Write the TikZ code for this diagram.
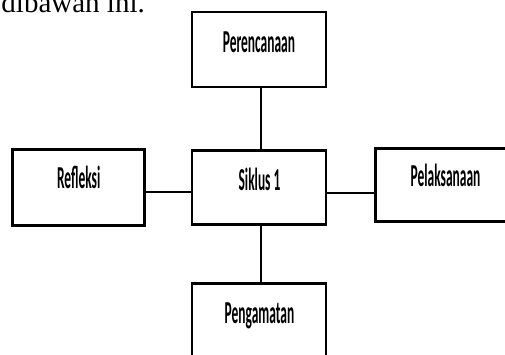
\documentclass[tikz,border=0pt]{standalone}
\usepackage{fontspec}
\setmainfont{Liberation Serif}
\newfontfamily\calib{Carlito}
\newcommand{\boxlbl}[1]{\scalebox{0.42}[1]{\fontsize{32}{34}\selectfont\calib\bfseries #1}}
\begin{document}
\begin{tikzpicture}[x=1pt,y=-1pt,
  box/.style={draw=black,line width=2.6pt,fill=white,inner sep=0pt},
  txt/.style={anchor=base,inner sep=0pt},
  conn/.style={draw=black,line width=1.1pt}]
\useasboundingbox (0,0) rectangle (505,355);
\clip (0,0) rectangle (505,355);
\node[anchor=base east,inner sep=0pt,font=\fontsize{29}{31}\selectfont] (intro) at (145,12.7) {dibawah ini.};
\node[box,minimum width=134pt,minimum height=75pt] (top) at (259,49.5) {};
\node[box,minimum width=134pt,minimum height=74pt] (center) at (259,187.5) {};
\node[box,minimum width=132pt,minimum height=76pt] (left) at (78.5,187.5) {};
\node[box,minimum width=139pt,minimum height=73pt] (right) at (445,185) {};
\node[box,minimum width=134pt,minimum height=75pt] (bottom) at (259,321) {};
\node[txt] (ttop) at (259,53) {\boxlbl{Perencanaan}};
\node[txt] (tcenter) at (259.5,190) {\boxlbl{Siklus 1}};
\node[txt] (tleft) at (78.7,188.5) {\boxlbl{Refleksi}};
\node[txt] (tright) at (445.5,187) {\boxlbl{Pelaksanaan}};
\node[txt] (tbottom) at (259.5,323) {\boxlbl{Pengamatan}};
\draw[conn] ([xshift=2pt]top.south) -- ([xshift=2pt]center.north);
\draw[conn] ([xshift=2pt]center.south) -- ([xshift=2pt]bottom.north);
\draw[conn] ([yshift=-4.5pt]left.east) -- ([yshift=-4.5pt]center.west);
\draw[conn] ([yshift=-5.5pt]center.east) -- ([yshift=-8pt]right.west);
\end{tikzpicture}
\end{document}
